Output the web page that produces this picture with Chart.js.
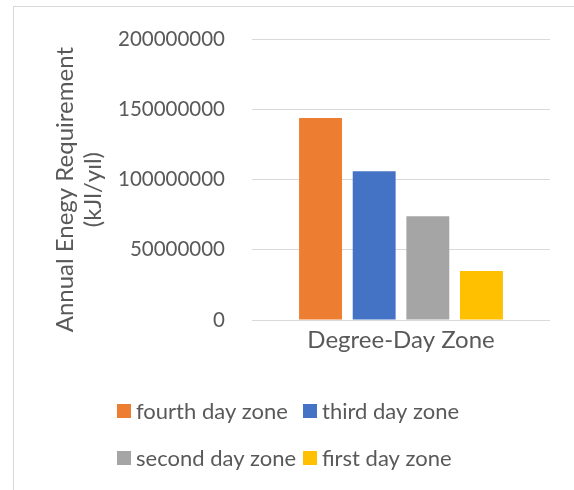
<!DOCTYPE html>
<html>
<head>
<meta charset="utf-8">
<script src="https://cdn.jsdelivr.net/npm/chart.js@4/dist/chart.umd.min.js"></script>
<style>
  html, body { margin: 0; padding: 0; background: #ffffff; }
  #wrap { position: relative; width: 574px; height: 490px; }
</style>
</head>
<body>
<div id="wrap"><canvas id="chart" width="574" height="490"></canvas></div>
<script>
// Annual energy requirement by degree-day zone
const categories = ['Degree-Day Zone'];
const seriesLabels = ['fourth day zone', 'third day zone', 'second day zone', 'first day zone'];
const fourthDayZone = [144000000];
const thirdDayZone = [106000000];
const secondDayZone = [74000000];
const firstDayZone = [35000000];
const yTickValues = [0, 50000000, 100000000, 150000000, 200000000];
const yTitleLines = ['Annual Enegy Requirement', '(kJl/yıl)'];

const seriesValues = [fourthDayZone, thirdDayZone, secondDayZone, firstDayZone];
const seriesColors = ['#ED7D31', '#4472C4', '#A5A5A5', '#FFC000'];

const FONT = 'Lato';
const TEXT = '#595959';

// Outer frame of the chart object
const framePlugin = {
  id: 'frame',
  beforeDraw(chart) {
    const ctx = chart.ctx;
    ctx.save();
    ctx.fillStyle = '#ffffff';
    ctx.fillRect(0, 0, chart.width, chart.height);
    ctx.strokeStyle = '#d9d9d9';
    ctx.lineWidth = 1;
    ctx.strokeRect(13.5, 6.5, chart.width + 20, chart.height + 20);
    ctx.restore();
  }
};

// Rotated two-line value-axis title, centred a little below the plot middle
const axisTitlePlugin = {
  id: 'axisTitle',
  afterDraw(chart) {
    const ctx = chart.ctx;
    const area = chart.chartArea;
    const cy = (area.top + area.bottom) / 2 + 10;
    ctx.save();
    ctx.font = '24px ' + FONT;
    ctx.fillStyle = TEXT;
    ctx.textAlign = 'center';
    ctx.textBaseline = 'middle';
    yTitleLines.forEach((line, i) => {
      ctx.save();
      ctx.translate(65 + i * 28, cy);
      ctx.rotate(-Math.PI / 2);
      ctx.fillText(line, 0, 0);
      ctx.restore();
    });
    ctx.restore();
  }
};

// Two-column legend below the plot
const gridLegendPlugin = {
  id: 'gridLegend',
  afterDraw(chart) {
    const ctx = chart.ctx;
    const cols = [117, 303];
    const rows = [411, 458];
    ctx.save();
    ctx.font = '22px ' + FONT;
    ctx.textBaseline = 'middle';
    ctx.textAlign = 'left';
    chart.data.datasets.forEach((ds, i) => {
      const x = cols[i % 2];
      const y = rows[Math.floor(i / 2)];
      ctx.fillStyle = ds.backgroundColor;
      ctx.fillRect(x, y - 7, 14, 14);
      ctx.fillStyle = TEXT;
      ctx.fillText(ds.label, x + 19, y + 1);
    });
    ctx.restore();
  }
};

new Chart(document.getElementById('chart'), {
  type: 'bar',
  data: {
    labels: categories,
    datasets: seriesLabels.map((label, i) => ({
      label: label,
      data: seriesValues[i],
      backgroundColor: seriesColors[i],
      borderWidth: 0,
      categoryPercentage: 0.72,
      barPercentage: 0.8
    }))
  },
  options: {
    responsive: false,
    animation: false,
    devicePixelRatio: 1,
    layout: { padding: { left: 0, right: 24, top: 37, bottom: 0 } },
    plugins: {
      legend: { display: false },
      tooltip: { enabled: false }
    },
    scales: {
      x: {
        grid: { display: false, drawTicks: false },
        border: { display: false },
        ticks: { color: TEXT, font: { family: FONT, size: 24 }, padding: 6 },
        afterFit(scale) { scale.height = 170; }
      },
      y: {
        min: 0,
        max: 200000000,
        afterBuildTicks(scale) { scale.ticks = yTickValues.map(v => ({ value: v })); },
        grid: { color: '#d9d9d9', lineWidth: 1, drawTicks: false },
        border: { display: false },
        ticks: {
          color: TEXT,
          font: { family: FONT, size: 20.5 },
          padding: 27,
          callback: (v) => String(v)
        },
        afterFit(scale) { scale.width = 252; }
      }
    }
  },
  plugins: [framePlugin, axisTitlePlugin, gridLegendPlugin]
});
</script>
</body>
</html>
